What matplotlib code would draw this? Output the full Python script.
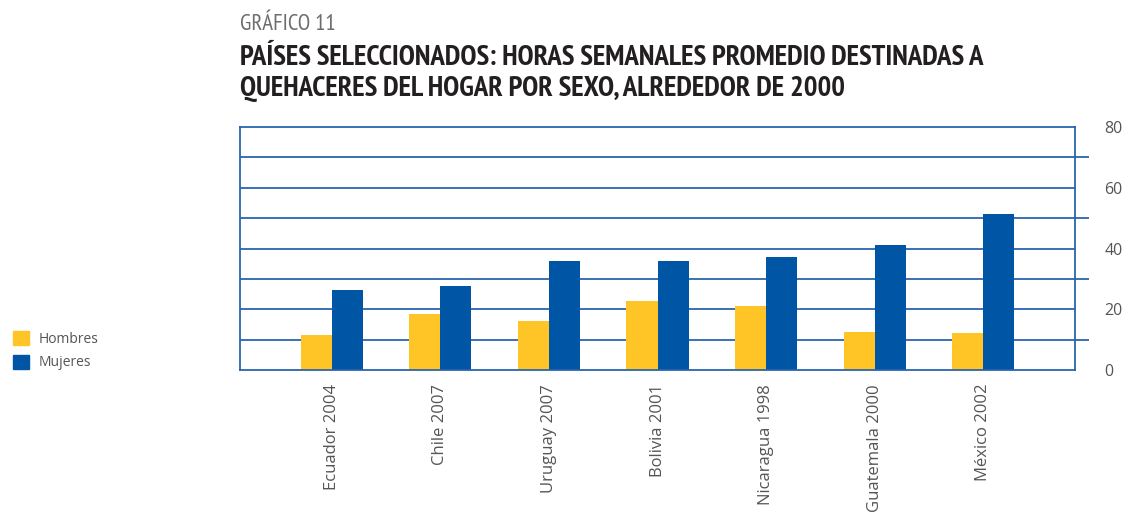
import matplotlib
matplotlib.use('Agg')
import matplotlib.pyplot as plt
from matplotlib.patches import Patch
import numpy as np

countries = ['Ecuador 2004', 'Chile 2007', 'Uruguay 2007', 'Bolivia 2001',
             'Nicaragua 1998', 'Guatemala 2000', 'México 2002']
hombres = [11.5, 18.6, 16.2, 22.8, 21.0, 12.6, 12.1]
mujeres = [26.3, 27.6, 36.0, 36.0, 37.3, 41.3, 51.5]

YELLOW = '#FFC425'
BLUE = '#0055A4'
LINE = '#2A64AE'
GREY = '#555555'
narrow = ['PT Sans Narrow', 'DejaVu Sans']

fig = plt.figure(figsize=(11.24, 5.18), dpi=100)
ax = fig.add_axes([0.2135, 0.2857, 0.7430, 0.4691])

x = np.arange(len(countries))
w = 0.286
ax.bar(x - w / 2, hombres, w, color=YELLOW, zorder=3)
ax.bar(x + w / 2, mujeres, w, color=BLUE, zorder=3)

ax.set_xlim(-0.845, len(countries) - 1 + 0.845)
ax.set_ylim(0, 80)

# frame and grid
for side in ['left', 'right', 'top', 'bottom']:
    ax.spines[side].set_color(LINE)
    ax.spines[side].set_linewidth(1.3)
    ax.spines[side].set_zorder(4)
for yv in range(10, 80, 10):
    ax.axhline(yv, color=LINE, lw=1.3, zorder=2)

ax.yaxis.tick_right()
ax.set_yticks([0, 20, 40, 60, 80])
ax.set_yticks(range(10, 80, 10), minor=True)
ax.tick_params(axis='y', which='major', length=0, pad=21, labelsize=11.5, labelcolor=GREY)
ax.tick_params(axis='y', which='minor', length=10, width=1.3, color=LINE, direction='out')
for lab in ax.get_yticklabels():
    lab.set_fontfamily('Open Sans')

ax.set_xticks(x)
ax.set_xticklabels(countries, rotation=90, fontsize=12, color=GREY, family='Open Sans', va='top')
ax.tick_params(axis='x', length=0, pad=10)

fig.text(0.2135, 0.942, 'GRÁFICO 11', fontsize=16.5, color='#6d6d6d', family=narrow, va='baseline')
fig.text(0.2135, 0.8745, 'PAÍSES SELECCIONADOS: HORAS SEMANALES PROMEDIO DESTINADAS A',
         fontsize=20.8, fontweight='bold', color='#231F20', family=narrow, va='baseline')
fig.text(0.2135, 0.8147, 'QUEHACERES DEL HOGAR POR SEXO, ALREDEDOR DE 2000',
         fontsize=20.8, fontweight='bold', color='#231F20', family=narrow, va='baseline')

handles = [Patch(color=YELLOW, label='Hombres'), Patch(color=BLUE, label='Mujeres')]
leg = fig.legend(handles=handles, loc='upper left', bbox_to_anchor=(0.0, 0.385),
                 frameon=False, fontsize=10, handlelength=1.2, handleheight=1.2,
                 handletextpad=0.7, labelspacing=0.55)
for t in leg.get_texts():
    t.set_color(GREY)
    t.set_fontfamily('Open Sans')

fig.savefig('out.png', dpi=100)
